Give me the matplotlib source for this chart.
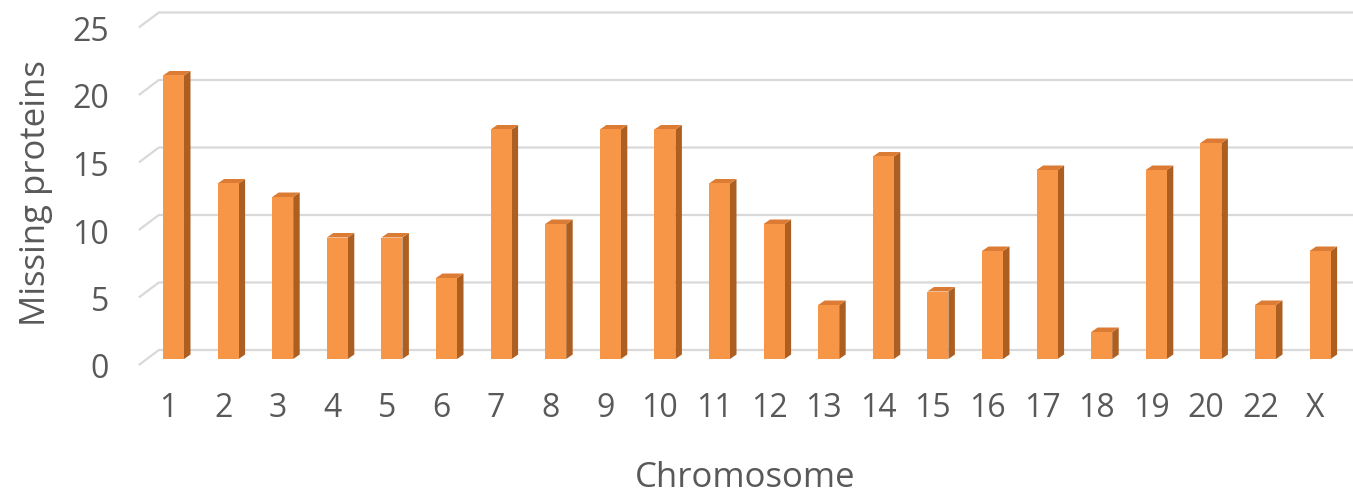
import matplotlib.pyplot as plt
from matplotlib.patches import Polygon, Rectangle
from matplotlib.transforms import ScaledTranslation

# Missing proteins per chromosome
chromosomes = ["1", "2", "3", "4", "5", "6", "7", "8", "9", "10", "11",
               "12", "13", "14", "15", "16", "17", "18", "19", "20", "22", "X"]
missing = [21, 13, 12, 9, 9, 6, 17, 10, 17, 17, 13, 10, 4, 15, 5, 8, 14, 2, 14, 16, 4, 8]
yticks = [0, 5, 10, 15, 20, 25]

W, H, DPI = 1353, 501, 100
fig = plt.figure(figsize=(W / DPI, H / DPI), dpi=DPI)
plt.rcParams['font.family'] = ['Open Sans', 'DejaVu Sans']

# pixel geometry of the plot area
px_x0, px_step = 173.5, 54.6     # centre of first bar, spacing between bars
px_y0, px_unit = 359.0, 13.5     # bar baseline (from top), pixels per unit
ax_left, ax_top, ax_bottom = 130, 0, 382

ax = fig.add_axes([ax_left / W, (H - ax_bottom) / H, (W - ax_left) / W, (ax_bottom - ax_top) / H])
ax.set_xlim((ax_left - px_x0) / px_step, (W - px_x0) / px_step)
ax.set_ylim((px_y0 - ax_bottom) / px_unit, (px_y0 - ax_top) / px_unit)
for s in ax.spines.values():
    s.set_visible(False)

def dx(px):
    return px / px_step

def dy(px):
    return px / px_unit

grid_col = "#d9d9d9"
back_dx, back_dy = 11, 9       # bar plane -> back wall
front_dx, front_dy = -9, -6    # bar plane -> front edge of floor
wall_left = -0.47

# gridlines: slanted floor/side edge then along the back wall
for v in yticks:
    xs = [wall_left + dx(front_dx), wall_left + dx(back_dx), ax.get_xlim()[1]]
    ys = [v + dy(front_dy), v + dy(back_dy), v + dy(back_dy)]
    ax.plot(xs, ys, color=grid_col, lw=1.6, zorder=1, solid_capstyle='butt')

# 3D-looking columns
bw = 21 / px_step
depth_x, depth_y = dx(6.5), dy(4.5)
front_col, side_col, top_col = "#f79646", "#ad5f22", "#dc7b33"
for i, v in enumerate(missing):
    x0 = i - bw / 2
    x1 = i + bw / 2
    ax.add_patch(Polygon([(x1, 0), (x1 + depth_x, depth_y), (x1 + depth_x, v + depth_y), (x1, v)],
                         closed=True, facecolor=side_col, edgecolor='none', zorder=3))
    ax.add_patch(Polygon([(x0, v), (x1, v), (x1 + depth_x, v + depth_y), (x0 + depth_x, v + depth_y)],
                         closed=True, facecolor=top_col, edgecolor='none', zorder=3))
    ax.add_patch(Rectangle((x0, 0), bw, v, facecolor=front_col, edgecolor='none', zorder=4))

text_col = "#595959"
ax.set_xticks(range(len(chromosomes)))
ax.set_xticklabels(chromosomes)
ax.set_yticks(yticks)
ax.tick_params(length=0, labelsize=23, colors=text_col)
ax.tick_params(axis='x', pad=7)
ax.tick_params(axis='y', pad=15)
for lab in ax.get_xticklabels():
    lab.set_transform(lab.get_transform() + ScaledTranslation(-5 / DPI, 0, fig.dpi_scale_trans))
for lab in ax.get_yticklabels():
    lab.set_transform(lab.get_transform() + ScaledTranslation(0, -7 / DPI, fig.dpi_scale_trans))

fig.text(36 / W, 1 - 193 / H, "Missing proteins", rotation=90, ha='center', va='center',
         fontsize=25, color=text_col)
fig.text(745 / W, 1 - 478 / H, "Chromosome", ha='center', va='center',
         fontsize=25, color=text_col)

fig.savefig("out.png", dpi=DPI, facecolor="white")
